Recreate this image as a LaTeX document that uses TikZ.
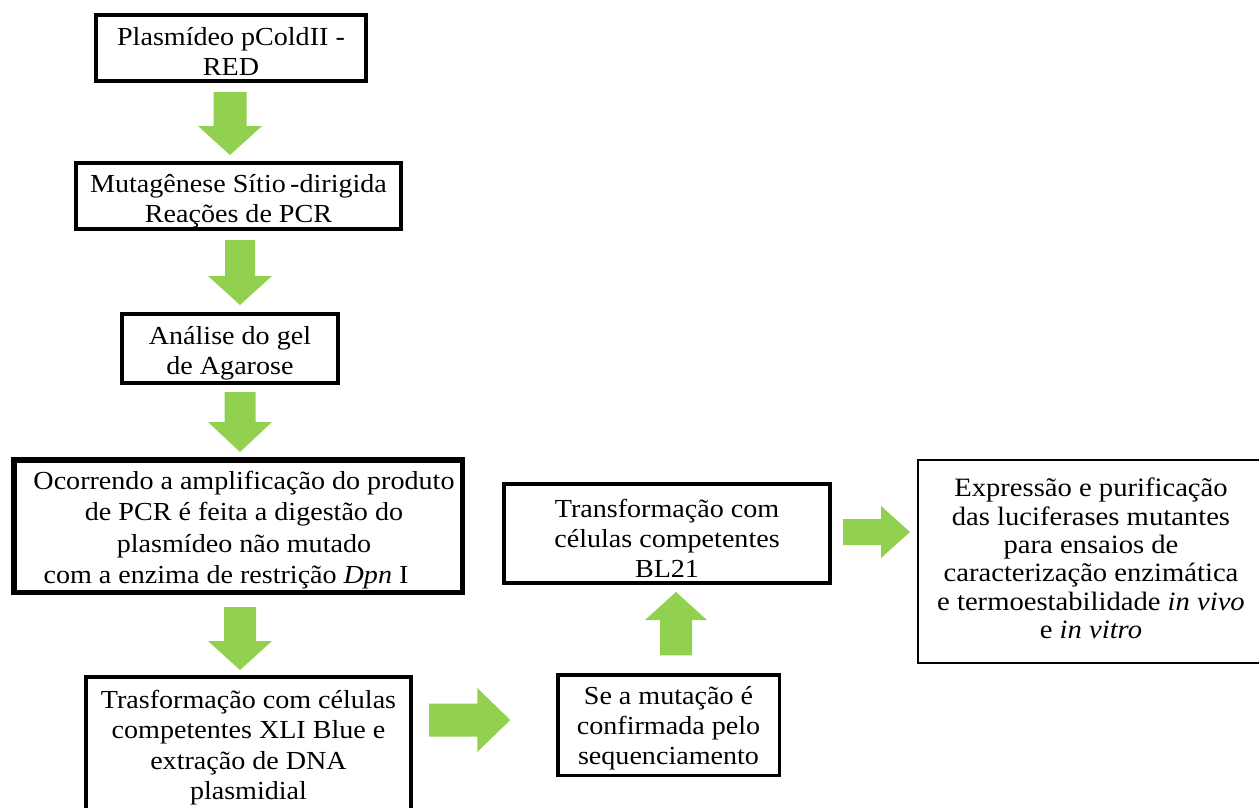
\documentclass[tikz,border=0pt]{standalone}
\usepackage{fontspec}
\setmainfont[FakeStretch=1.08]{Liberation Serif}
\usetikzlibrary{calc}
\definecolor{arrowgreen}{HTML}{92D050}
\tikzset{
  box/.style={draw=black, fill=white, rectangle, inner sep=0pt},
  txt/.style={inner sep=0pt, align=center, font=\fontsize{26}{30}\selectfont},
  garrow/.style={fill=arrowgreen, draw=none}
}
% #1 start, #2 tip, #3 shaft half width, #4 head half width, #5 head length
\newcommand\garr[5]{%
 \fill[garrow] let \p1=#1, \p2=#2,
   \n1={atan2(\y2-\y1,\x2-\x1)}, \n2={veclen(\x2-\x1,\y2-\y1)-#5} in
   ($(\p1)+(\n1+90:#3pt)$) -- ($(\p1)+(\n1:\n2)+(\n1+90:#3pt)$)
   -- ($(\p1)+(\n1:\n2)+(\n1+90:#4pt)$) -- (\p2)
   -- ($(\p1)+(\n1:\n2)+(\n1-90:#4pt)$) -- ($(\p1)+(\n1:\n2)+(\n1-90:#3pt)$)
   -- ($(\p1)+(\n1-90:#3pt)$) -- cycle;}
\begin{document}
\begin{tikzpicture}[x=1pt,y=-1pt]
\path[use as bounding box, fill=white] (0,0) rectangle (1259,807);
\clip (0,0) rectangle (1259,807);

\node[box, line width=4pt, minimum width=270pt, minimum height=66pt] (b1) at (231,48) {};
\node[txt] (t1) at ($(b1.center)+(0,3)$) {Plasmídeo pColdII -\\RED};

\node[box, line width=4pt, minimum width=325pt, minimum height=66pt] (b2) at (238.5,196) {};
\node[txt] (t2) at ($(b2.center)+(0,5)$) {Mutagênese Sítio\,-dirigida\\Reações de PCR};

\node[box, line width=4pt, minimum width=216pt, minimum height=69pt] (b3) at (230,348.5) {};
\node[txt] (t3) at ($(b3.center)+(0,5)$) {Análise do gel\\de Agarose};

\node[box, line width=5.5pt, minimum width=448.5pt, minimum height=132.5pt] (b4) at (238,526) {};
\node[txt, font=\fontsize{26}{31.5}\selectfont] (t4) at ($(b4.center)+(0,4)$)
  {\hspace*{12pt}Ocorrendo a amplificação do produto\\\hspace*{12pt}de PCR é feita a digestão do\\\hspace*{12pt}plasmídeo não mutado\\\hspace*{-24pt}com a enzima de restrição \textit{Dpn} I};

\node[box, line width=4pt, minimum width=325pt, minimum height=136pt] (b5) at (248.5,745) {};
\node[txt, font=\fontsize{26}{30.5}\selectfont] (t5) at ($(b5.center)+(0,2.5)$)
  {Trasformação com células\\competentes XLI Blue e\\extração de DNA\\plasmidial};

\node[box, line width=3.5pt, minimum width=221.5pt, minimum height=100.5pt] (b6) at (668.5,725) {};
\node[txt] (t6) at ($(b6.center)+(0,3)$) {Se a mutação é\\confirmada pelo\\sequenciamento};

\node[box, line width=4pt, minimum width=326pt, minimum height=99pt] (b7) at (667,533.5) {};
\node[txt] (t7) at ($(b7.center)+(0,4.5)$) {Transformação com\\células competentes\\BL21};

\node[box, line width=2pt, minimum width=346pt, minimum height=203pt] (b8) at (1091,561.5) {};
\node[txt, font=\fontsize{26.5}{28.3}\selectfont] (t8) at ($(b8.center)+(0,-3)$)
  {Expressão e purificação\\das luciferases mutantes\\para ensaios de\\caracterização enzimática\\e termoestabilidade \textit{in vivo}\\e \textit{in vitro}};

\garr{($(b1.south)+(-1,9)$)}{($(b2.north)+(-8.5,-6)$)}{16.5}{32}{29}
\garr{($(b2.south)+(1.5,9)$)}{($(b3.north)+(10,-7)$)}{15}{32}{29}
\garr{($(b3.south)+(10,7)$)}{($(b4.north)+(2,-5)$)}{15.5}{32}{30}
\garr{($(b4.south)+(2,12)$)}{($(b5.north)+(-8.5,-5)$)}{16}{32}{29}
\garr{($(b5.east)+(16,-25)$)}{($(b6.west)+(-45.75,-5)$)}{16.5}{32}{33}
\garr{($(b6.north)+(7.5,-17.75)$)}{($(b7.south)+(9,7)$)}{16}{31}{28}
\garr{($(b7.east)+(11,-1.5)$)}{($(b8.west)+(-7,-29.5)$)}{13}{26}{29}
\end{tikzpicture}
\end{document}
